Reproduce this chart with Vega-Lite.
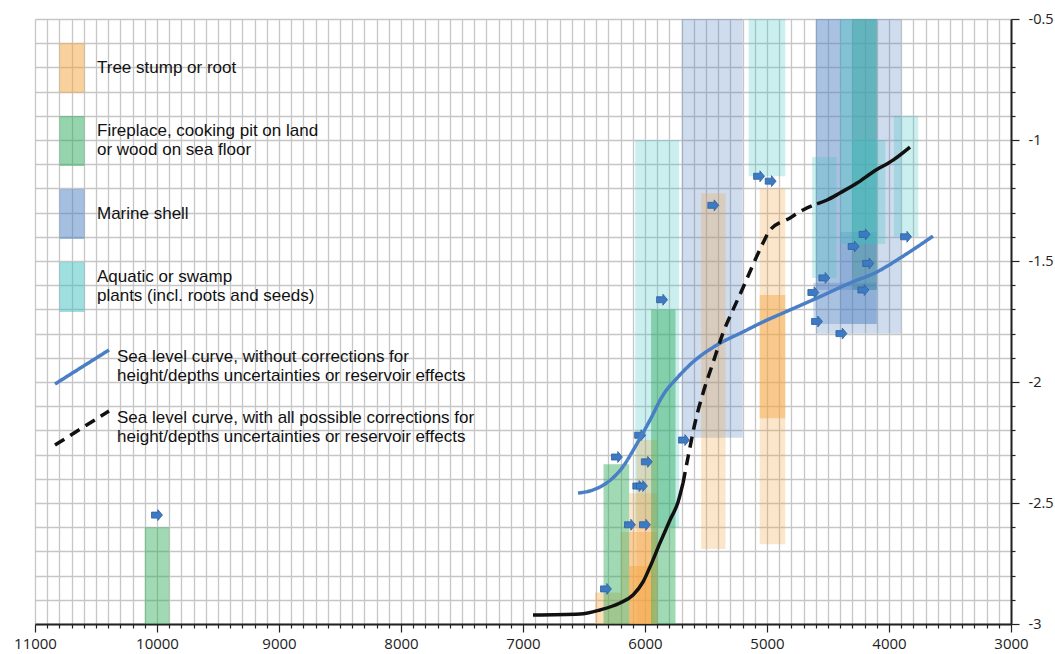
{
  "$schema": "https://vega.github.io/schema/vega-lite/v6.json",
  "width": 976,
  "height": 605,
  "autosize": {"type": "none"},
  "padding": {"left": 35, "top": 19, "right": 44, "bottom": 30},
  "background": "white",
  "config": {
    "view": {"stroke": null},
    "axis": {"gridColor": "#c6c6c6", "gridWidth": 1.3, "domainColor": "#222", "domainWidth": 2, "tickColor": "#222", "tickWidth": 1.2, "labelFont": "Open Sans", "labelFontSize": 15, "labelColor": "#222", "title": null}
  },
  "datasets": {
    "rects": [
      {"type": "fire", "range": "inner", "x": 4300, "x2": 4100, "y": -1.62, "y2": -0.5},
      {"type": "shell", "range": "outer", "x": 5700, "x2": 5200, "y": -2.23, "y2": -0.5},
      {"type": "shell", "range": "outer", "x": 4600, "x2": 3900, "y": -1.8, "y2": -0.5},
      {"type": "shell", "range": "outer", "x": 4600, "x2": 4400, "y": -1.62, "y2": -0.5},
      {"type": "shell", "range": "outer", "x": 4400, "x2": 4100, "y": -1.62, "y2": -0.5},
      {"type": "shell", "range": "outer", "x": 4400, "x2": 4100, "y": -1.76, "y2": -1.38},
      {"type": "shell", "range": "outer", "x": 4620, "x2": 4100, "y": -1.76, "y2": -1.59},
      {"type": "aquatic", "range": "outer", "x": 6080, "x2": 5720, "y": -2.6, "y2": -1.0},
      {"type": "aquatic", "range": "outer", "x": 5150, "x2": 4850, "y": -1.15, "y2": -0.5},
      {"type": "aquatic", "range": "outer", "x": 4630, "x2": 4430, "y": -1.57, "y2": -1.07},
      {"type": "aquatic", "range": "mid", "x": 4400, "x2": 4100, "y": -1.43, "y2": -0.5},
      {"type": "aquatic", "range": "outer", "x": 4300, "x2": 4030, "y": -1.43, "y2": -1.0},
      {"type": "aquatic", "range": "outer", "x": 3960, "x2": 3760, "y": -1.4, "y2": -0.9},
      {"type": "stump", "range": "mid", "x": 6410, "x2": 6200, "y": -3, "y2": -2.87},
      {"type": "stump", "range": "mid", "x": 6200, "x2": 5900, "y": -3, "y2": -2.62},
      {"type": "stump", "range": "outer", "x": 6130, "x2": 5900, "y": -3, "y2": -2.46},
      {"type": "stump", "range": "outer", "x": 6070, "x2": 5900, "y": -3, "y2": -2.24},
      {"type": "stump", "range": "inner", "x": 6130, "x2": 5940, "y": -3, "y2": -2.76},
      {"type": "stump", "range": "outer", "x": 5540, "x2": 5340, "y": -2.69, "y2": -1.22},
      {"type": "stump", "range": "outer", "x": 5060, "x2": 4850, "y": -2.67, "y2": -1.2},
      {"type": "stump", "range": "inner", "x": 5060, "x2": 4850, "y": -2.15, "y2": -1.64},
      {"type": "fire", "range": "inner", "x": 10100, "x2": 9900, "y": -3, "y2": -2.6},
      {"type": "fire", "range": "inner", "x": 6340, "x2": 6130, "y": -3, "y2": -2.34},
      {"type": "fire", "range": "inner", "x": 5950, "x2": 5750, "y": -3, "y2": -1.7}
    ],
    "markers": [
      {"year": 10000, "value": -2.55},
      {"year": 5860, "value": -1.66},
      {"year": 5440, "value": -1.27},
      {"year": 5065, "value": -1.15},
      {"year": 4970, "value": -1.17},
      {"year": 4530, "value": -1.57},
      {"year": 4620, "value": -1.63},
      {"year": 4290, "value": -1.44},
      {"year": 4200, "value": -1.39},
      {"year": 4170, "value": -1.51},
      {"year": 4210, "value": -1.62},
      {"year": 3860, "value": -1.4},
      {"year": 4590, "value": -1.75},
      {"year": 4390, "value": -1.8},
      {"year": 5680, "value": -2.24},
      {"year": 6040, "value": -2.22},
      {"year": 6230, "value": -2.31},
      {"year": 5985, "value": -2.33},
      {"year": 6055, "value": -2.43},
      {"year": 6025, "value": -2.43},
      {"year": 6123, "value": -2.59},
      {"year": 6000, "value": -2.59},
      {"year": 6320, "value": -2.855}
    ],
    "curves": [
      {"curve": "without", "seg": "blue", "year": 6549, "value": -2.459},
      {"curve": "without", "seg": "blue", "year": 6426, "value": -2.446},
      {"curve": "without", "seg": "blue", "year": 6303, "value": -2.413},
      {"curve": "without", "seg": "blue", "year": 6188, "value": -2.355},
      {"curve": "without", "seg": "blue", "year": 6082, "value": -2.269},
      {"curve": "without", "seg": "blue", "year": 5959, "value": -2.157},
      {"curve": "without", "seg": "blue", "year": 5852, "value": -2.054},
      {"curve": "without", "seg": "blue", "year": 5729, "value": -1.979},
      {"curve": "without", "seg": "blue", "year": 5606, "value": -1.917},
      {"curve": "without", "seg": "blue", "year": 5410, "value": -1.847},
      {"curve": "without", "seg": "blue", "year": 5197, "value": -1.793},
      {"curve": "without", "seg": "blue", "year": 5000, "value": -1.744},
      {"curve": "without", "seg": "blue", "year": 4869, "value": -1.715},
      {"curve": "without", "seg": "blue", "year": 4590, "value": -1.653},
      {"curve": "without", "seg": "blue", "year": 4320, "value": -1.591},
      {"curve": "without", "seg": "blue", "year": 4098, "value": -1.545},
      {"curve": "without", "seg": "blue", "year": 3910, "value": -1.488},
      {"curve": "without", "seg": "blue", "year": 3770, "value": -1.442},
      {"curve": "without", "seg": "blue", "year": 3639, "value": -1.397},
      {"curve": "with", "seg": "solid1", "year": 6918, "value": -2.963},
      {"curve": "with", "seg": "solid1", "year": 6533, "value": -2.959},
      {"curve": "with", "seg": "solid1", "year": 6369, "value": -2.942},
      {"curve": "with", "seg": "solid1", "year": 6205, "value": -2.913},
      {"curve": "with", "seg": "solid1", "year": 6098, "value": -2.88},
      {"curve": "with", "seg": "solid1", "year": 6016, "value": -2.826},
      {"curve": "with", "seg": "solid1", "year": 5959, "value": -2.764},
      {"curve": "with", "seg": "solid1", "year": 5877, "value": -2.665},
      {"curve": "with", "seg": "solid1", "year": 5795, "value": -2.57},
      {"curve": "with", "seg": "solid1", "year": 5729, "value": -2.496},
      {"curve": "with", "seg": "solid1", "year": 5688, "value": -2.417},
      {"curve": "with", "seg": "dash", "year": 5688, "value": -2.417},
      {"curve": "with", "seg": "dash", "year": 5647, "value": -2.31},
      {"curve": "with", "seg": "dash", "year": 5590, "value": -2.169},
      {"curve": "with", "seg": "dash", "year": 5524, "value": -2.045},
      {"curve": "with", "seg": "dash", "year": 5443, "value": -1.921},
      {"curve": "with", "seg": "dash", "year": 5361, "value": -1.798},
      {"curve": "with", "seg": "dash", "year": 5279, "value": -1.702},
      {"curve": "with", "seg": "dash", "year": 5205, "value": -1.62},
      {"curve": "with", "seg": "dash", "year": 5123, "value": -1.525},
      {"curve": "with", "seg": "dash", "year": 5033, "value": -1.426},
      {"curve": "with", "seg": "dash", "year": 4975, "value": -1.372},
      {"curve": "with", "seg": "dash", "year": 4811, "value": -1.322},
      {"curve": "with", "seg": "dash", "year": 4705, "value": -1.289},
      {"curve": "with", "seg": "dash", "year": 4590, "value": -1.264},
      {"curve": "with", "seg": "solid2", "year": 4590, "value": -1.264},
      {"curve": "with", "seg": "solid2", "year": 4508, "value": -1.248},
      {"curve": "with", "seg": "solid2", "year": 4402, "value": -1.219},
      {"curve": "with", "seg": "solid2", "year": 4262, "value": -1.178},
      {"curve": "with", "seg": "solid2", "year": 4131, "value": -1.132},
      {"curve": "with", "seg": "solid2", "year": 3967, "value": -1.083},
      {"curve": "with", "seg": "solid2", "year": 3828, "value": -1.029}
    ]
  },
  "encoding": {
    "x": {
      "type": "quantitative",
      "scale": {"domain": [3000, 11000], "reverse": true, "nice": false, "zero": false},
      "axis": {
        "orient": "bottom", "tickCount": 80, "format": "d", "grid": true,
        "labelExpr": "datum.value % 1000 === 0 ? datum.label : ''",
        "labelOverlap": false, "labelFlush": false, "labelPadding": 4,
        "tickSize": {"condition": {"test": "datum.value % 1000 === 0", "value": 8}, "value": 4}
      }
    },
    "y": {
      "type": "quantitative",
      "scale": {"domain": [-3, -0.5], "nice": false, "zero": false},
      "axis": {
        "orient": "right", "tickCount": 25, "format": "~g", "grid": true,
        "labelExpr": "abs(datum.value * 2 - round(datum.value * 2)) < 0.001 ? replace(datum.label, '\u2212', '-') : ''",
        "labelOverlap": false, "labelFlush": false, "labelPadding": 9, "labelAlign": "left", "labelFontSize": 14.5,
        "tickSize": {"condition": {"test": "abs(datum.value * 2 - round(datum.value * 2)) < 0.001", "value": 8}, "value": 4}
      }
    }
  },
  "layer": [
    {
      "data": {"name": "rects"},
      "mark": {"type": "rect"},
      "encoding": {
        "x": {"field": "x", "type": "quantitative"},
        "x2": {"field": "x2"},
        "y": {"field": "y", "type": "quantitative"},
        "y2": {"field": "y2"},
        "fill": {
          "field": "type", "type": "nominal",
          "scale": {"domain": ["stump", "fire", "shell", "aquatic"], "range": ["#f4a340", "#2eaa5c", "#4a7fc1", "#3fbfbf"]},
          "legend": {
            "title": null, "orient": "none", "legendX": 12, "legendY": 24, "padding": 0,
            "symbolType": "M-0.5,-1H0.5V1H-0.5Z", "symbolSize": 2500, "symbolOpacity": 0.5, "symbolStrokeWidth": 0,
            "rowPadding": 23, "labelFont": "Liberation Sans", "labelFontSize": 17, "labelColor": "#111", "labelLimit": 600, "labelOffset": 0,
            "labelBaseline": {"expr": "datum.value == 'fire' || datum.value == 'aquatic' ? 'line-bottom' : 'middle'"},
            "labelExpr": "datum.value == 'stump' ? 'Tree stump or root' : datum.value == 'fire' ? ['Fireplace, cooking pit on land', 'or wood on sea floor'] : datum.value == 'shell' ? 'Marine shell' : ['Aquatic or swamp', 'plants (incl. roots and seeds)']"
          }
        },
        "opacity": {"field": "range", "type": "nominal", "scale": {"domain": ["outer", "mid", "inner"], "range": [0.27, 0.45, 0.75]}, "legend": null}
      }
    },
    {
      "data": {"name": "markers"},
      "mark": {"type": "point", "shape": "M-1,-0.55L0.15,-0.55L0.15,-1L1,0L0.15,1L0.15,0.55L-1,0.55Z", "size": 120, "filled": true, "fill": "#3d7ac4", "stroke": "#2f5f9e", "strokeWidth": 0.8, "opacity": 1},
      "encoding": {
        "x": {"field": "year", "type": "quantitative"},
        "y": {"field": "value", "type": "quantitative"}
      }
    },
    {
      "data": {"name": "curves"},
      "transform": [{"filter": "datum.seg == 'blue' || datum.seg == 'dash'"}],
      "mark": {"type": "line", "strokeWidth": 3.5, "interpolate": "monotone"},
      "encoding": {
        "x": {"field": "year", "type": "quantitative"},
        "y": {"field": "value", "type": "quantitative"},
        "stroke": {
          "field": "curve", "type": "nominal",
          "scale": {"domain": ["without", "with"], "range": ["#4a7fc6", "#111111"]},
          "legend": {
            "title": null, "orient": "none", "legendX": 18, "legendY": 319, "padding": 0,
            "symbolType": "M-1,0.63L1,-0.63", "symbolSize": 2916, "symbolStrokeWidth": 3.5,
            "rowPadding": 7, "labelFont": "Liberation Sans", "labelFontSize": 17, "labelColor": "#111", "labelLimit": 700, "labelOffset": 6,
            "labelBaseline": "line-bottom",
            "labelExpr": "datum.value == 'without' ? ['Sea level curve, without corrections for', 'height/depths uncertainties or reservoir effects'] : ['Sea level curve, with all possible corrections for', 'height/depths uncertainties or reservoir effects']"
          }
        },
        "strokeDash": {
          "field": "curve", "type": "nominal",
          "scale": {"domain": ["without", "with"], "range": [[1, 0], [11, 7]]}
        }
      }
    },
    {
      "data": {"name": "curves"},
      "transform": [{"filter": "datum.seg == 'solid1' || datum.seg == 'solid2'"}],
      "mark": {"type": "line", "strokeWidth": 3.5, "interpolate": "monotone", "stroke": "#111111"},
      "encoding": {
        "x": {"field": "year", "type": "quantitative"},
        "y": {"field": "value", "type": "quantitative"},
        "detail": {"field": "seg", "type": "nominal"}
      }
    }
  ]
}
